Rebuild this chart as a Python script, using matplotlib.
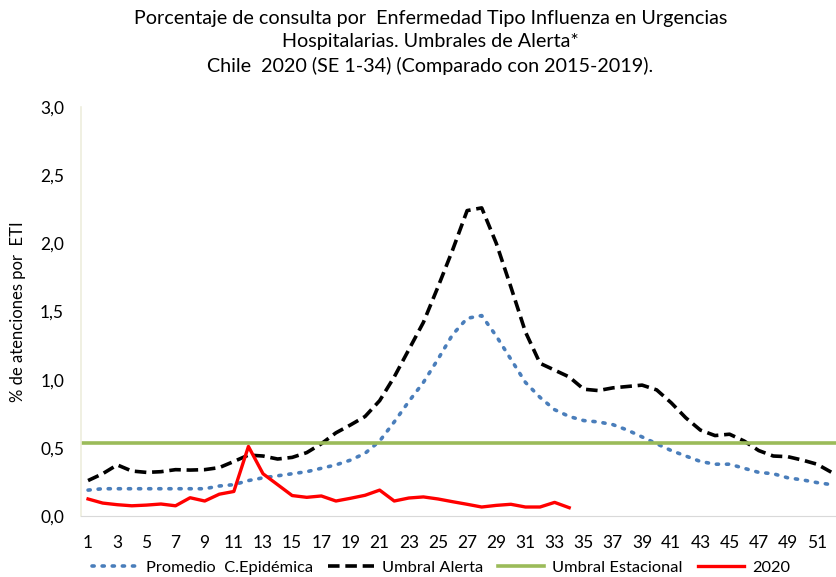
import matplotlib.pyplot as plt
from matplotlib.ticker import FuncFormatter

plt.rcParams['font.family'] = ['Lato', 'DejaVu Sans']

semanas = list(range(1, 53))

promedio = [0.19, 0.20, 0.20, 0.20, 0.20, 0.20, 0.20, 0.20, 0.20, 0.22,
            0.23, 0.26, 0.28, 0.295, 0.31, 0.325, 0.35, 0.375, 0.41, 0.46,
            0.55, 0.69, 0.84, 0.98, 1.15, 1.33, 1.45, 1.47, 1.32, 1.15,
            0.98, 0.87, 0.78, 0.73, 0.70, 0.69, 0.67, 0.63, 0.58, 0.53,
            0.48, 0.44, 0.40, 0.38, 0.38, 0.35, 0.32, 0.31, 0.28, 0.265,
            0.245, 0.23]

umbral_alerta = [0.26, 0.31, 0.375, 0.33, 0.32, 0.325, 0.34, 0.337, 0.34, 0.355,
                 0.40, 0.447, 0.44, 0.418, 0.43, 0.465, 0.53, 0.61, 0.668, 0.73,
                 0.846, 1.02, 1.22, 1.42, 1.68, 1.95, 2.24, 2.26, 2.0, 1.68,
                 1.35, 1.12, 1.07, 1.02, 0.93, 0.92, 0.94, 0.95, 0.96, 0.925,
                 0.83, 0.72, 0.63, 0.59, 0.60, 0.55, 0.48, 0.44, 0.435, 0.41,
                 0.38, 0.32]

umbral_estacional = 0.535

semanas_2020 = list(range(1, 35))
casos_2020 = [0.125, 0.095, 0.083, 0.075, 0.08, 0.088, 0.075, 0.134, 0.11, 0.16,
              0.18, 0.51, 0.31, 0.23, 0.15, 0.137, 0.147, 0.11, 0.13, 0.152,
              0.19, 0.11, 0.132, 0.14, 0.125, 0.105, 0.086, 0.066, 0.078, 0.086,
              0.066, 0.066, 0.10, 0.061]

fig = plt.figure(figsize=(8.36, 5.77), dpi=100)
ax = fig.add_axes([0.0966, 0.1057, 0.9034, 0.7089])

ax.plot(semanas, promedio, color='#4A7EBB', linestyle=(0, (0.6, 2.2)), linewidth=2.6,
        dash_capstyle='round', label='Promedio  C.Epidémica')
ax.plot(semanas, umbral_alerta, color='black', linestyle=(0, (3.2, 1.6)), linewidth=2.6,
        label='Umbral Alerta')
ax.plot([0.5, 52.5], [umbral_estacional, umbral_estacional], color='#9BBB59', linewidth=2.6,
        label='Umbral Estacional')
ax.plot(semanas_2020, casos_2020, color='#FF0000', linewidth=2.4, label='2020')

ax.set_xlim(0.5, 52.3)
ax.set_ylim(0, 3.0)
ax.set_xticks(range(1, 53, 2))
ax.set_yticks([0, 0.5, 1.0, 1.5, 2.0, 2.5, 3.0])
ax.yaxis.set_major_formatter(FuncFormatter(lambda v, p: ('%.1f' % v).replace('.', ',')))
ax.tick_params(length=0, labelsize=12.5, colors='black')
ax.tick_params(axis='x', pad=14)
ax.tick_params(axis='y', pad=12)
for s in ['top', 'right']:
    ax.spines[s].set_visible(False)
ax.spines['left'].set_color('#EEEEDD')
ax.spines['bottom'].set_color('#D9D9D9')
ax.spines['left'].set_linewidth(1.2)

ax.set_ylabel('% de atenciones por  ETI', fontsize=12, labelpad=10)

fig.text(0.515, 0.982, 'Porcentaje de consulta por  Enfermedad Tipo Influenza en Urgencias\n'
         'Hospitalarias. Umbrales de Alerta*\n'
         'Chile  2020 (SE 1-34) (Comparado con 2015-2019).',
         ha='center', va='top', fontsize=14.2, linespacing=1.42)

ax.legend(loc='center', bbox_to_anchor=(0.477, -0.127), ncol=4, frameon=False,
          fontsize=11.8, handlelength=2.8, columnspacing=0.9, handletextpad=0.5,
          borderpad=0.0)

fig.savefig('out.png', dpi=100)
